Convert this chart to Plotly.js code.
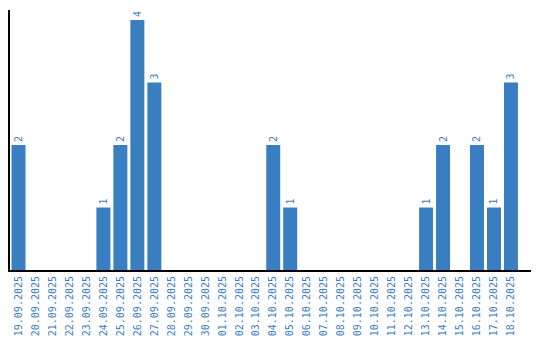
<!DOCTYPE html>
<html>
<head>
<meta charset="utf-8">
<script src="https://cdn.plot.ly/plotly-3.0.1.min.js"></script>
<style>html,body{margin:0;padding:0;background:#fff;}#chart{width:540px;height:340px;}</style>
</head>
<body>
<div id="chart"></div>
<script>
const dates = ["19.09.2025","20.09.2025","21.09.2025","22.09.2025","23.09.2025","24.09.2025","25.09.2025","26.09.2025","27.09.2025","28.09.2025","29.09.2025","30.09.2025","01.10.2025","02.10.2025","03.10.2025","04.10.2025","05.10.2025","06.10.2025","07.10.2025","08.10.2025","09.10.2025","10.10.2025","11.10.2025","12.10.2025","13.10.2025","14.10.2025","15.10.2025","16.10.2025","17.10.2025","18.10.2025"];
const counts = [2,0,0,0,0,1,2,4,3,0,0,0,0,0,0,2,1,0,0,0,0,0,0,0,1,2,0,2,1,3];

const blue = "#3a7ec2";
const labels = counts.map(v => v > 0 ? String(v) : "");

Plotly.newPlot("chart", [{
  type: "bar",
  x: dates,
  y: counts,
  marker: {color: blue},
  text: labels,
  textposition: "outside",
  textangle: -90,
  textfont: {family: "DejaVu Sans Mono", size: 10, color: blue},
  cliponaxis: false,
  hoverinfo: "none"
}], {
  width: 540,
  height: 340,
  margin: {l: 10, r: 9, t: 10, b: 70},
  paper_bgcolor: "#fff",
  plot_bgcolor: "#fff",
  bargap: 0.176,
  showlegend: false,
  xaxis: {
    type: "category",
    range: [-0.5, 30.18],
    showline: true,
    linecolor: "#000",
    linewidth: 2,
    showgrid: false,
    zeroline: false,
    ticks: "",
    tickangle: -90,
    tickfont: {family: "DejaVu Sans Mono", size: 10, color: blue},
    automargin: false
  },
  yaxis: {
    range: [0, 4.16],
    showline: true,
    linecolor: "#000",
    linewidth: 2,
    showgrid: false,
    zeroline: false,
    showticklabels: false,
    ticks: "",
    automargin: false
  }
}, {staticPlot: true});
</script>
</body>
</html>
